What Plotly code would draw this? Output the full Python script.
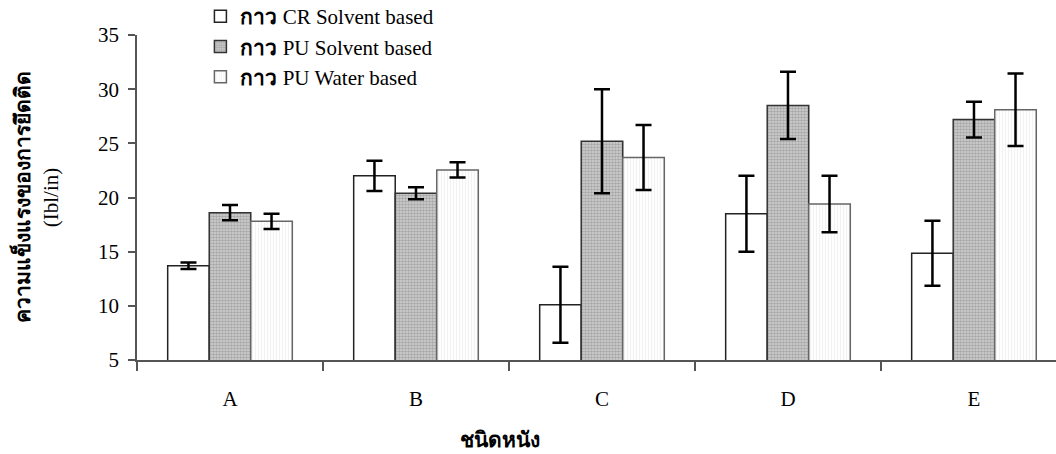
import plotly.graph_objects as go

categories = ["A", "B", "C", "D", "E"]
cr_solvent = [13.7, 22.0, 10.1, 18.5, 14.85]
cr_solvent_err = [0.3, 1.4, 3.5, 3.5, 3.0]
pu_solvent = [18.6, 20.4, 25.2, 28.5, 27.2]
pu_solvent_err = [0.7, 0.55, 4.8, 3.1, 1.65]
pu_water = [17.8, 22.55, 23.7, 19.4, 28.1]
pu_water_err = [0.7, 0.7, 3.0, 2.6, 3.35]

legend_names = [
    "<b>กาว</b> CR Solvent based",
    "<b>กาว</b> PU Solvent based",
    "<b>กาว</b> PU Water based",
]
x_title = "<b>ชนิดหนัง</b>"
y_title = "<b>ความแข็งแรงของการยึดติด</b><br>(Ibl/in)"

serif = "Liberation Serif, Times New Roman, serif"

fig = go.Figure()

fig.add_trace(go.Bar(
    x=categories, y=cr_solvent, name=legend_names[0],
    marker=dict(color="white", line=dict(color="#222222", width=1.5)),
    error_y=dict(type="data", array=cr_solvent_err, color="black", thickness=2.5, width=8),
))
fig.add_trace(go.Bar(
    x=categories, y=pu_solvent, name=legend_names[1],
    marker=dict(color="#c4c4c4", line=dict(color="#333333", width=1.5),
                pattern=dict(shape=".", fgcolor="#7c7c7c", bgcolor="#d2d2d2", size=3, solidity=0.55)),
    error_y=dict(type="data", array=pu_solvent_err, color="black", thickness=2.5, width=8),
))
fig.add_trace(go.Bar(
    x=categories, y=pu_water, name=legend_names[2],
    marker=dict(color="white", line=dict(color="#666666", width=1.5),
                pattern=dict(shape="|", fgcolor="#e6e6e6", bgcolor="white", size=3, solidity=0.4)),
    error_y=dict(type="data", array=pu_water_err, color="black", thickness=2.5, width=8),
))

fig.update_layout(
    width=1056, height=454,
    margin=dict(l=137, r=0, t=35, b=94, autoexpand=False),
    paper_bgcolor="white", plot_bgcolor="white",
    barmode="group", bargap=0.33, bargroupgap=0,
    font=dict(family=serif, size=21, color="black"),
    showlegend=True,
    legend=dict(x=0.069, y=1.12, xanchor="left", yanchor="top",
                bgcolor="rgba(0,0,0,0)", font=dict(family=serif, size=21),
                tracegroupgap=0, itemwidth=30),
    annotations=[dict(text=x_title, xref="paper", yref="paper", x=0.395, y=0,
                      xanchor="center", yanchor="middle", yshift=-80,
                      showarrow=False, font=dict(size=21))],
)

fig.update_xaxes(
    range=[-0.5, 4.441],
    showline=True, linecolor="#555555", linewidth=1.5,
    ticks="outside", ticklen=9, tickcolor="#555555", tickwidth=1.5,
    tickson="boundaries", ticklabelstandoff=19,
    tickfont=dict(family=serif, size=21),
    showgrid=False, zeroline=False,
)
fig.update_yaxes(
    range=[5, 35], dtick=5,
    showline=True, linecolor="#555555", linewidth=1.5,
    ticks="outside", ticklen=7, tickcolor="#555555", tickwidth=1.5,
    ticklabelstandoff=5,
    tickfont=dict(family=serif, size=21),
    showgrid=False, zeroline=False,
    title=dict(text=y_title, font=dict(size=21), standoff=34),
)

fig.write_html("out.html")
